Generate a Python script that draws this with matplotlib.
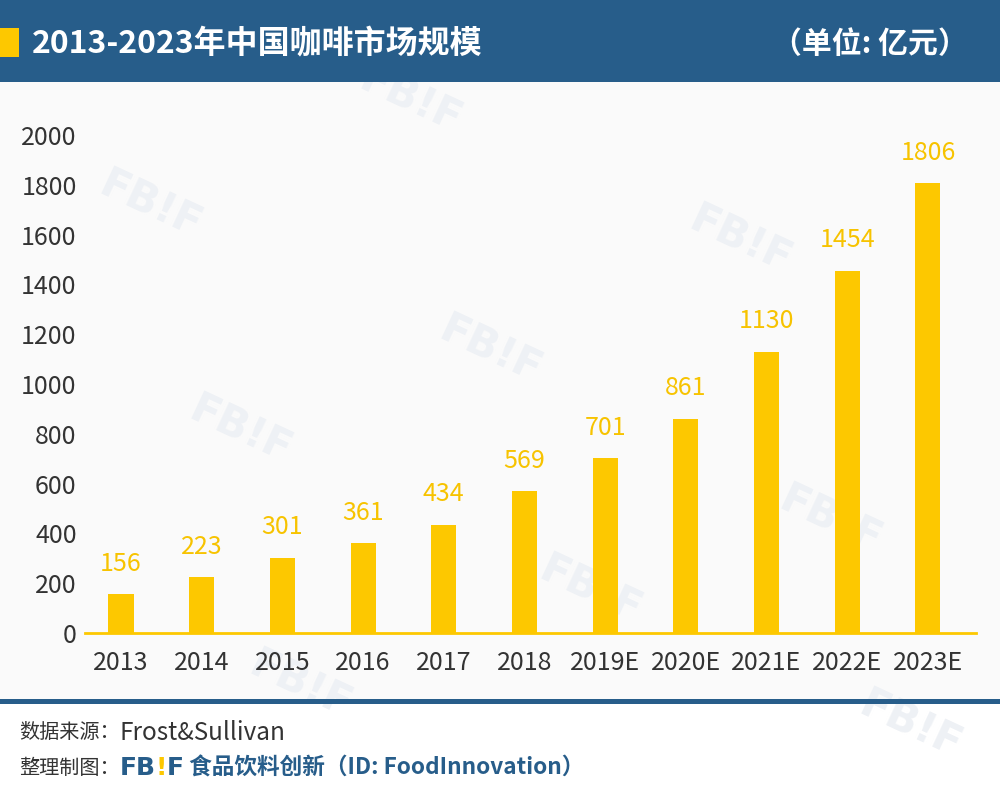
import matplotlib
matplotlib.use("Agg")
import matplotlib.pyplot as plt
from matplotlib.patches import Rectangle

plt.rcParams['font.family'] = ['Noto Sans CJK SC', 'DejaVu Sans']

# data
years = ['2013', '2014', '2015', '2016', '2017', '2018',
         '2019E', '2020E', '2021E', '2022E', '2023E']
market = [156, 223, 301, 361, 434, 569, 701, 861, 1130, 1454, 1806]
yticks = list(range(0, 2001, 200))

title = '2013-2023年中国咖啡市场规模'
unit = '（单位: 亿元）'

BLUE = '#275d8a'
YELLOW = '#fdc800'
LABEL_YELLOW = '#f7c300'
GREY_TXT = '#333333'

W, H = 1000, 796
fig = plt.figure(figsize=(10, 7.96), dpi=100)
fig.patch.set_facecolor('white')


def fx(x):
    return x / W


def fy(y):
    return 1 - y / H


def box(x0, y0, x1, y1, color, z=0):
    fig.add_artist(Rectangle((fx(x0), fy(y1)), (x1 - x0) / W, (y1 - y0) / H,
                             transform=fig.transFigure, color=color, zorder=z, lw=0))


# header / plot panel / divider
box(0, 0, W, 82, BLUE, z=-1)
box(0, 82, W, 700, '#fafafa', z=-2)
box(0, 699, W, 704, BLUE, z=-1)
box(0, 28, 19, 57, YELLOW, z=-1)

fig.text(fx(32), fy(44), title, color='white', fontsize=23, fontweight='bold',
         va='center', ha='left')
fig.text(fx(968), fy(44), unit, color='white', fontsize=21.5, fontweight='bold',
         va='center', ha='right')

# faint watermarks behind the chart
marks = [(150, 205), (740, 240), (490, 350), (240, 430), (830, 520),
         (590, 590), (300, 685), (910, 725), (410, 100)]
for mx, my in marks:
    fig.text(fx(mx), fy(my), 'FB!F', color='#eef1f5', fontsize=30, fontweight='bold',
             rotation=-25, ha='center', va='center', zorder=-1.5,
             family='DejaVu Sans')

# chart
ax = fig.add_axes([fx(85), fy(633), 891 / W, 498 / H])
ax.set_zorder(1)
ax.set_facecolor('none')
x = list(range(len(years)))
ax.bar(x, market, width=0.31, color=YELLOW, zorder=2)
for xi, v in zip(x, market):
    ax.annotate(str(v), (xi, v), xytext=(0, 22), textcoords='offset points',
                ha='center', va='center', color=LABEL_YELLOW, fontsize=18,
                annotation_clip=False)

ax.set_xlim(-0.446, 10.595)
ax.set_ylim(0, 2000)
ax.set_yticks(yticks)
ax.set_xticks(x, years)
ax.tick_params(axis='y', length=0, pad=6, labelsize=18, labelcolor=GREY_TXT)
ax.tick_params(axis='x', length=0, pad=12, labelsize=18, labelcolor=GREY_TXT)
for s in ['top', 'right', 'left']:
    ax.spines[s].set_visible(False)
ax.spines['bottom'].set_color(YELLOW)
ax.spines['bottom'].set_linewidth(2)

# footer, written as runs of text placed one after the other
renderer = fig.canvas.get_renderer()


def run(y, parts):
    cx = 19
    for s, kw in parts:
        t = fig.text(fx(cx), fy(y), s, va='center', ha='left', **kw)
        cx += t.get_window_extent(renderer).width


run(733, [
    ('数据来源：', dict(color=GREY_TXT, fontsize=14.5)),
    ('Frost&Sullivan', dict(color=GREY_TXT, fontsize=17.5)),
])
run(768, [
    ('整理制图：', dict(color=GREY_TXT, fontsize=14.5)),
    ('FB', dict(color=BLUE, fontsize=18, fontweight='bold', family='DejaVu Sans')),
    ('!', dict(color=YELLOW, fontsize=18, fontweight='bold', family='DejaVu Sans')),
    ('F', dict(color=BLUE, fontsize=18, fontweight='bold', family='DejaVu Sans')),
    (' 食品饮料创新（ID: FoodInnovation）', dict(color=BLUE, fontsize=16.3, fontweight='bold')),
])

fig.savefig('out.png', dpi=100, facecolor=fig.get_facecolor())
